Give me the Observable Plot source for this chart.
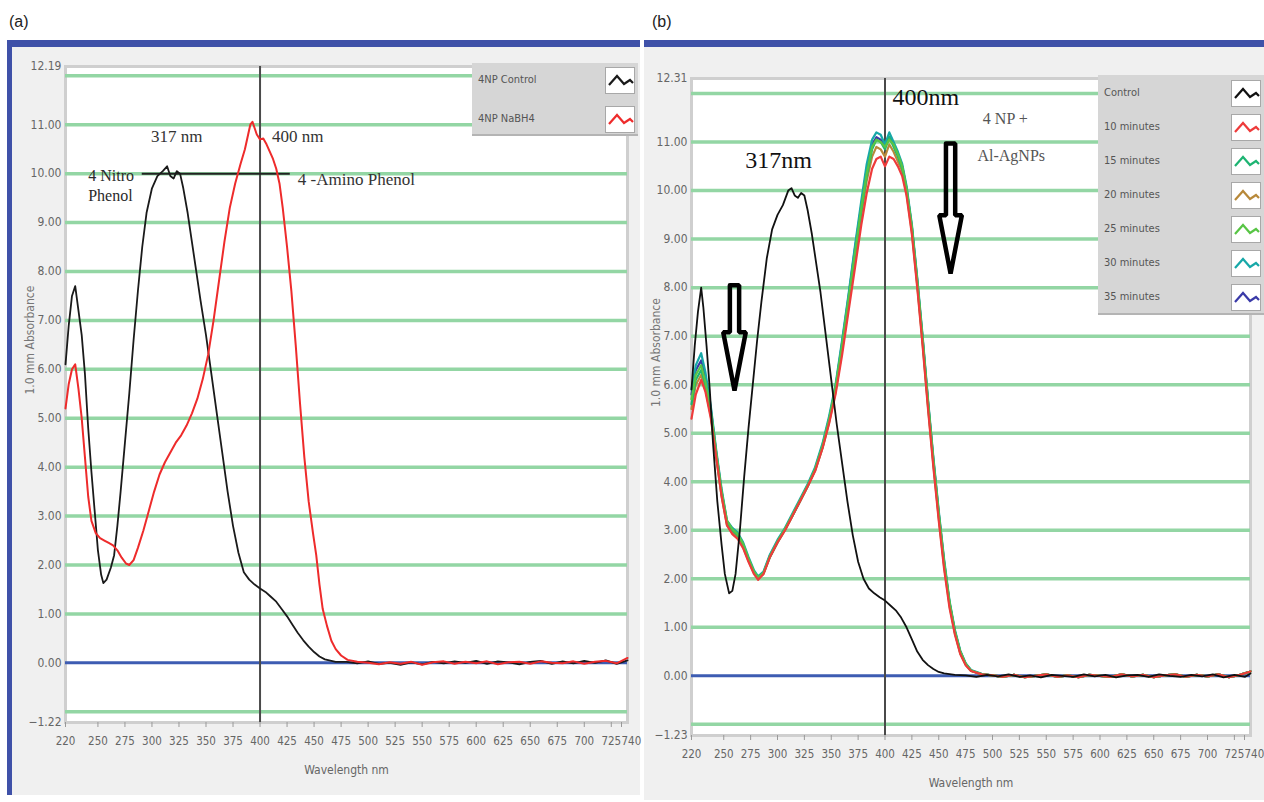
<!DOCTYPE html>
<html><head><meta charset="utf-8">
<script src="https://cdn.jsdelivr.net/npm/d3@7"></script>
<script src="https://cdn.jsdelivr.net/npm/@observablehq/plot@0.6"></script>
<style>
body{margin:0;width:1264px;height:802px;position:relative;background:#fff;overflow:hidden;font-family:"Liberation Sans",Arial,sans-serif}
.abs{position:absolute}
.tag{font-size:16px;color:#222}
.blue{background:#3f51a8}
.legend{background:#d6d6d6;border-bottom:2px solid #b4b4b4}
.lrow{position:absolute;font-family:"DejaVu Sans",sans-serif;font-stretch:condensed;font-size:11px;color:#555;line-height:12px}
.sw{position:absolute;background:#fff;border:1px solid #a8a8a8;width:28px;height:25px}
#pa svg,#pb svg{font-stretch:condensed}
</style></head><body>
<div class="abs tag" style="left:9px;top:13px">(a)</div>
<div class="abs tag" style="left:652px;top:13px">(b)</div>
<div class="abs blue" style="left:7px;top:40px;width:633px;height:7px"></div>
<div class="abs blue" style="left:7px;top:40px;width:5px;height:755px"></div>
<div class="abs blue" style="left:644px;top:40px;width:620px;height:7px"></div>
<div id="pa" class="abs" style="left:12px;top:47px"></div>
<div id="pb" class="abs" style="left:644px;top:47px"></div>
<div id="la" class="abs legend" style="left:472px;top:63px;width:166px;height:71px"></div>
<div id="lb" class="abs legend" style="left:1098px;top:75px;width:166px;height:238px"></div>
<script>
// ---------- shared axis data ----------
const xTicks = [220,250,275,300,325,350,375,400,425,450,475,500,525,550,575,600,625,650,675,700,725];
const xLastTick = [740];
const yTicksA = [-1.22,0,1,2,3,4,5,6,7,8,9,10,11,12.19];
const yTicksB = [-1.23,0,1,2,3,4,5,6,7,8,9,10,11,12.31];
const gridLines = [-1,1,2,3,4,5,6,7,8,9,10,11,12];

// ---------- panel (a) data ----------
const aBlackWl = [220,223,226,229,232,235,238,241,244,247,250,253,255,258,262,265,268,271,275,279,283,287,291,295,300,305,310,314,317,320,323,326,329,333,337,341,345,350,355,360,365,370,375,380,385,390,395,400,405,410,415,420,425,430,435,440,445,450,455,460,470,480,490,500,510,520,530,540,550,560,570,580,590,600,610,620,630,640,650,660,670,680,690,700,710,720,730,740];
const aBlackV  = [6.1,6.9,7.5,7.7,7.2,6.7,5.9,4.8,3.9,3.1,2.3,1.8,1.63,1.7,1.95,2.2,2.8,3.5,4.5,5.5,6.6,7.6,8.5,9.2,9.7,9.95,10.05,10.15,9.95,9.9,10.05,10.0,9.7,9.2,8.6,8.0,7.4,6.7,5.9,5.1,4.3,3.5,2.8,2.25,1.85,1.7,1.6,1.52,1.45,1.35,1.25,1.1,0.95,0.78,0.61,0.46,0.33,0.22,0.13,0.07,0.02,0.02,-0.01,0.03,-0.02,0.0,-0.04,0.01,-0.03,0.02,-0.01,0.03,0.0,0.04,-0.02,0.03,0.01,-0.03,0.02,0.04,-0.02,0.03,-0.01,0.04,0.0,0.05,-0.02,0.05];
const aRedWl = [220,223,226,229,232,235,238,241,244,248,252,256,260,264,268,272,276,279,283,287,292,297,302,307,312,317,322,327,332,337,342,347,352,357,362,367,372,377,382,386,389,391,393,397,400,403,406,409,412,415,418,421,425,429,433,437,441,445,449,452,455,458,462,466,470,475,481,490,500,510,520,530,540,550,560,570,580,590,600,610,620,630,640,650,660,670,680,690,700,710,720,730,740];
const aRedV  = [5.2,5.7,6.0,6.1,5.6,5.0,4.2,3.4,2.9,2.65,2.55,2.5,2.45,2.4,2.3,2.15,2.03,2.0,2.1,2.35,2.7,3.1,3.5,3.85,4.1,4.3,4.5,4.65,4.85,5.1,5.4,5.8,6.3,7.0,7.8,8.6,9.3,9.8,10.2,10.5,10.8,11.0,11.06,10.8,10.7,10.72,10.6,10.45,10.3,10.1,9.8,9.3,8.5,7.6,6.5,5.3,4.2,3.3,2.65,2.2,1.6,1.1,0.75,0.45,0.28,0.15,0.06,0.02,0.0,-0.03,0.01,-0.02,0.02,-0.04,0.01,0.03,-0.02,0.02,-0.01,0.03,-0.03,0.01,0.02,-0.02,0.03,0.0,-0.01,0.03,-0.02,0.02,0.04,-0.01,0.1];

// panel (a) annotations
const aLabels = [
  {text:"317 nm", wl:299, v:10.76, size:17, color:"#333"},
  {text:"400 nm", wl:411, v:10.76, size:17, color:"#333"},
  {text:"4 Nitro", wl:241, v:9.96, size:16, color:"#2a2a2a"},
  {text:"Phenol", wl:241, v:9.55, size:16, color:"#2a2a2a"},
  {text:"4 -Amino Phenol", wl:435, v:9.88, size:17, color:"#333"}
];
const aBar = [{wl1:291, wl2:428, v:10}];
const peakLine = [400];

// ---------- panel (b) data ----------
const bBlackWl = [220,223,226,229,231,234,237,240,244,248,251,255,258,261,265,269,273,277,281,285,290,295,300,305,310,313,316,319,322,325,328,332,336,340,345,350,355,360,365,370,375,380,385,390,395,400,405,410,415,420,425,430,435,440,445,450,455,465,475,485,495,505,515,525,535,545,555,565,575,585,595,605,615,625,635,645,655,665,675,685,695,705,715,725,735,740];
const bBlackV  = [5.9,6.8,7.5,8.0,7.6,6.8,5.9,4.8,3.6,2.7,2.1,1.7,1.75,2.1,3.0,4.1,5.1,6.0,6.9,7.7,8.6,9.2,9.5,9.7,10.0,10.05,9.9,9.85,9.95,9.9,9.6,9.1,8.5,7.9,7.0,6.1,5.2,4.4,3.6,2.9,2.35,2.0,1.8,1.7,1.62,1.55,1.45,1.35,1.2,1.0,0.75,0.5,0.33,0.22,0.14,0.08,0.05,0.02,0.01,-0.02,0.02,-0.01,0.03,-0.02,0.01,-0.03,0.02,0.0,-0.02,0.03,-0.01,0.02,-0.03,0.01,0.02,-0.02,0.03,0.0,-0.02,0.02,-0.01,0.03,-0.03,0.02,-0.02,0.05];

const tWl = [220,224,229,233,238,243,248,253,258,263,268,273,278,282,287,293,300,307,314,321,328,335,342,348,354,360,366,372,378,383,388,392,396,400,404,408,412,416,420,425,430,435,440,445,450,455,460,465,470,475,480,490];
const t10 = [5.3,5.8,6.1,5.85,5.3,4.5,3.7,3.1,2.92,2.82,2.63,2.35,2.1,1.98,2.1,2.45,2.75,3.0,3.3,3.6,3.9,4.22,4.7,5.2,5.8,6.6,7.5,8.4,9.3,9.95,10.45,10.65,10.7,10.5,10.7,10.65,10.5,10.3,9.9,9.1,8.0,6.8,5.5,4.3,3.2,2.2,1.4,0.85,0.45,0.22,0.1,0.03];
const t15 = [5.6,6.1,6.3,6.0,5.4,4.55,3.75,3.15,3.0,2.9,2.7,2.4,2.15,2.03,2.12,2.45,2.75,3.02,3.3,3.6,3.9,4.25,4.72,5.25,5.9,6.75,7.7,8.65,9.6,10.3,10.85,11.05,11.0,10.85,11.1,10.9,10.7,10.45,10.0,9.2,8.1,6.9,5.6,4.4,3.3,2.3,1.5,0.9,0.48,0.24,0.11,0.03];
const t20 = [5.5,6.0,6.2,5.9,5.35,4.5,3.7,3.1,2.95,2.85,2.65,2.37,2.12,2.0,2.1,2.45,2.75,3.0,3.3,3.6,3.9,4.23,4.7,5.22,5.85,6.7,7.6,8.55,9.5,10.2,10.7,10.9,10.85,10.7,10.95,10.8,10.6,10.4,9.95,9.15,8.05,6.85,5.55,4.35,3.25,2.25,1.45,0.88,0.46,0.23,0.1,0.03];
const t25 = [5.7,6.2,6.4,6.05,5.45,4.6,3.8,3.2,3.02,2.92,2.72,2.42,2.15,2.03,2.12,2.47,2.77,3.03,3.32,3.62,3.92,4.26,4.75,5.28,5.95,6.8,7.75,8.7,9.65,10.35,10.9,11.05,11.0,10.9,11.05,10.95,10.75,10.5,10.05,9.25,8.15,6.95,5.65,4.45,3.35,2.35,1.52,0.92,0.5,0.25,0.11,0.03];
const t30 = [5.9,6.4,6.65,6.25,5.55,4.65,3.85,3.2,3.05,2.95,2.75,2.45,2.18,2.05,2.15,2.5,2.8,3.05,3.35,3.65,3.95,4.3,4.8,5.35,6.0,6.9,7.85,8.85,9.8,10.55,11.05,11.2,11.15,10.95,11.2,11.0,10.8,10.55,10.1,9.3,8.2,7.0,5.7,4.5,3.4,2.4,1.55,0.95,0.52,0.26,0.12,0.04];
const t35 = [5.8,6.3,6.5,6.15,5.5,4.6,3.8,3.15,3.0,2.9,2.7,2.4,2.15,2.02,2.12,2.48,2.78,3.02,3.32,3.62,3.92,4.27,4.76,5.3,5.95,6.85,7.8,8.8,9.7,10.45,10.95,11.1,11.05,10.9,11.1,10.95,10.75,10.5,10.05,9.25,8.15,6.95,5.65,4.45,3.35,2.35,1.5,0.92,0.5,0.25,0.11,0.03];
const tailWl = [500,510,520,530,540,550,560,570,580,590,600,610,620,630,640,650,660,670,680,690,700,710,720,730,740];
const tailV  = [0.01,-0.02,0.02,-0.03,0.0,0.03,-0.02,0.01,-0.03,0.02,0.0,-0.02,0.03,-0.01,0.02,-0.03,0.01,0.03,-0.02,0.02,-0.01,0.03,-0.03,0.02,0.09];

const bSeriesNames = ["Control","10 minutes","15 minutes","20 minutes","25 minutes","30 minutes","35 minutes"];
const bSeriesColors = ["#111111","#ee3b3b","#1db472","#b8893a","#58c545","#17a8a8","#3a3aa8"];

// panel (b) annotations
const bLabels = [
  {text:"400nm", wl:407, v:11.92, size:24, color:"#111"},
  {text:"317nm", wl:270, v:10.62, size:24, color:"#111"},
  {text:"4 NP +", wl:491, v:11.48, size:16, color:"#555"},
  {text:"Al-AgNPs", wl:486, v:10.72, size:16, color:"#555"}
];
const bArrows = [{wl:260, top:8.05, tip:5.88}, {wl:461, top:10.97, tip:8.29}];

// ---------- helpers ----------
const toRows = (wl, v, s) => wl.map((w, i) => ({wl: w, v: v[i], s}));
const fmt2 = d3.format(".2f");
const TICKFONT = "'DejaVu Sans',sans-serif";

function base(yTicks) {
  return [
    Plot.frame({fill: "#ffffff", stroke: "#cfcfcf", strokeWidth: 3}),
    Plot.ruleY(gridLines, {stroke: "#93d6a4", strokeWidth: 3.5}),
    Plot.ruleY([0], {stroke: "#3d5cb2", strokeWidth: 3}),
    Plot.ruleX(peakLine, {stroke: "#4a4a4a", strokeWidth: 2}),
    Plot.axisX({ticks: xTicks, tickFormat: d => String(d), tickSize: 5, tickPadding: 9, label: null, fontSize: 11.5, fill: "#666", stroke: "#999"}),
    Plot.axisX({ticks: xLastTick, tickFormat: d => String(d), tickSize: 5, tickPadding: 9, label: null, fontSize: 11.5, fill: "#666", stroke: "#999", textAnchor: "start", dx: -6}),
    Plot.axisY({ticks: yTicks, tickFormat: fmt2, tickSize: 0, tickPadding: 4, label: null, fontSize: 12, fill: "#666"}),
    Plot.text(["Wavelength nm"], {frameAnchor: "bottom", dy: 51, fontSize: 12, fill: "#666"}),
    Plot.text(["1.0 mm Absorbance"], {frameAnchor: "left", dx: -35, rotate: -90, fontSize: 12, fill: "#777"})
  ];
}
function labelMarks(labels) {
  return Plot.text(labels, {x: "wl", y: "v", text: "text", textAnchor: "start", lineAnchor: "middle",
    fontSize: d => d.size, fill: d => d.color, fontFamily: "'Liberation Serif','Times New Roman',serif"});
}

// ---------- panel (a) ----------
const rowsABlack = toRows(aBlackWl, aBlackV, "4NP Control");
const rowsARed = toRows(aRedWl, aRedV, "4NP NaBH4");
const plotA = Plot.plot({
  width: 628, height: 748,
  marginLeft: 53, marginRight: 13, marginTop: 19, marginBottom: 73,
  style: {background: "#f0f0f0", fontFamily: TICKFONT, fontSize: "12px", overflow: "visible"},
  x: {domain: [220, 740]},
  y: {domain: [-1.22, 12.19]},
  marks: [
    ...base(yTicksA),
    Plot.ruleY(aBar, {x1: "wl1", x2: "wl2", y: "v", stroke: "#222", strokeWidth: 2}),
    Plot.line(rowsABlack, {x: "wl", y: "v", stroke: "#1a1a1a", strokeWidth: 1.8}),
    Plot.line(rowsARed, {x: "wl", y: "v", stroke: "#ee2b2b", strokeWidth: 2}),
    labelMarks(aLabels)
  ]
});
document.getElementById("pa").append(plotA);

// ---------- panel (b) ----------
const tSeries = [t10, t15, t20, t25, t30, t35];
const rowsB = [toRows(bBlackWl, bBlackV, bSeriesNames[0])];
tSeries.forEach((vals, i) => rowsB.push(toRows(tWl.concat(tailWl), vals.concat(tailV), bSeriesNames[i + 1])));
const drawOrder = [6, 5, 3, 2, 4, 1, 0];

const SHAFT = 4.3, HEAD = 10.5, HEADLEN = 1.2;
const arrowPts = bArrows.flatMap((a, k) => {
  const neck = a.tip + HEADLEN;
  return [
    [a.wl - SHAFT, a.top], [a.wl + SHAFT, a.top], [a.wl + SHAFT, neck], [a.wl + HEAD, neck],
    [a.wl, a.tip], [a.wl - HEAD, neck], [a.wl - SHAFT, neck], [a.wl - SHAFT, a.top]
  ].map(([x, y]) => ({x, y, k}));
});

const plotB = Plot.plot({
  width: 620, height: 753,
  marginLeft: 47, marginRight: 14, marginTop: 31, marginBottom: 65,
  style: {background: "#f0f0f0", fontFamily: TICKFONT, fontSize: "12px", overflow: "visible"},
  x: {domain: [220, 740]},
  y: {domain: [-1.23, 12.31]},
  marks: [
    ...base(yTicksB),
    ...drawOrder.map(i => Plot.line(rowsB[i], {x: "wl", y: "v", stroke: bSeriesColors[i], strokeWidth: i === 0 ? 1.8 : 2.2})),
    Plot.line(arrowPts, {x: "x", y: "y", z: "k", stroke: "#000", strokeWidth: 4.5, strokeLinejoin: "miter", curve: "linear"}),
    labelMarks(bLabels)
  ]
});
document.getElementById("pb").append(plotB);

// ---------- legends ----------
function legend(el, names, colors, rowH, firstY) {
  const box = document.getElementById(el);
  names.forEach((n, i) => {
    const cy = firstY + i * rowH;
    const t = document.createElement("div");
    t.className = "lrow"; t.textContent = n;
    t.style.left = "6px"; t.style.top = (cy - 6) + "px";
    box.appendChild(t);
    const s = document.createElement("div");
    s.className = "sw";
    s.style.left = (box.clientWidth - 33) + "px"; s.style.top = (cy - 13) + "px";
    s.innerHTML = `<svg width="28" height="25"><polyline points="3,17 11,8 18,16 24,12 27,15" fill="none" stroke="${colors[i]}" stroke-width="2.2"/></svg>`;
    box.appendChild(s);
  });
}
legend("la", ["4NP Control", "4NP NaBH4"], ["#1a1a1a", "#ee2b2b"], 39, 17);
legend("lb", bSeriesNames, bSeriesColors, 34, 18);
</script>
</body></html>
